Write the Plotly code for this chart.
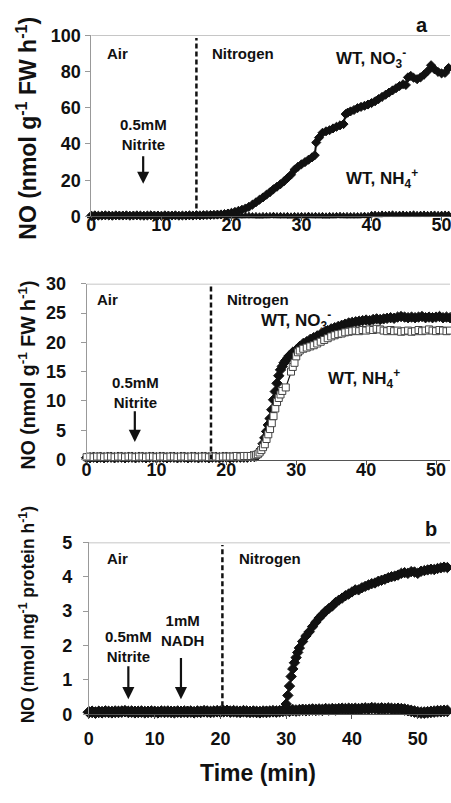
import plotly.graph_objects as go

FONT = "Liberation Sans, Arial, sans-serif"

# ---------------- Panel a (top): WT leaves ----------------
a_no3_t = [0, 0.5, 1, 1.5, 2, 2.5, 3, 3.5, 4, 4.5,
           5, 5.5, 6, 6.5, 7, 7.5, 8, 8.5, 9, 9.5,
           10, 10.5, 11, 11.5, 12, 12.5, 13, 13.5, 14, 14.5,
           15, 15.5, 16, 16.5, 17, 17.5, 18, 18.5, 19, 19.5,
           20, 20.5, 21, 21.5, 22, 22.5, 23, 23.5, 24, 24.5,
           25, 25.5, 26, 26.5, 27, 27.5, 28, 28.5, 29, 29.5,
           30, 30.5, 31, 31.5, 31.9, 32.1, 32.5, 33, 33.5, 34,
           34.5, 35, 35.5, 36, 36.3, 36.6, 37, 37.5, 38, 38.5,
           39, 39.5, 40, 40.5, 41, 41.5, 42, 42.5, 43, 43.5,
           44, 44.5, 44.9, 45.2, 45.6, 46, 46.5, 47, 47.5, 48,
           48.5, 49, 49.5, 50, 50.5, 51]
a_no3_v = [0.5, 0.6, 0.4, 0.5, 0.6, 0.5, 0.4, 0.6, 0.5, 0.5,
           0.6, 0.4, 0.5, 0.6, 0.5, 0.4, 0.5, 0.6, 0.5, 0.5,
           0.4, 0.6, 0.5, 0.5, 0.6, 0.4, 0.5, 0.5, 0.6, 0.5,
           0.7, 0.6, 0.7, 0.8, 0.8, 0.9, 1.0, 1.1, 1.3, 1.6,
           2.0, 2.5, 3.1, 3.7, 4.4, 5.3, 6.5, 7.8, 9.2, 10.5,
           12.0, 13.4, 15.0, 16.4, 17.8, 19.4, 21.2, 23.0, 25.8, 27.4,
           28.8, 30.0, 31.3, 32.6, 33.8, 40.8, 43.5, 46.2, 47.0, 47.6,
           48.6, 49.5, 50.3, 51.0, 56.5, 57.3, 58.0, 58.8, 59.8, 60.5,
           61.1, 61.8, 62.6, 63.6, 64.8, 66.0, 67.2, 68.4, 69.6, 70.8,
           72.0, 73.0, 72.6, 76.8, 77.6, 76.6, 75.8, 76.8, 78.3, 80.2,
           83.5, 81.2, 79.8, 79.0, 79.3, 82.0]
a_nh4_t = [0, 0.5, 1, 1.5, 2, 2.5, 3, 3.5, 4, 4.5,
           5, 5.5, 6, 6.5, 7, 7.5, 8, 8.5, 9, 9.5,
           10, 10.5, 11, 11.5, 12, 12.5, 13, 13.5, 14, 14.5,
           15, 15.5, 16, 16.5, 17, 17.5, 18, 18.5, 19, 19.5,
           20, 20.5, 21, 21.5, 22, 22.5, 23, 23.5, 24, 24.5,
           25, 25.5, 26, 26.5, 27, 27.5, 28, 28.5, 29, 29.5,
           30, 30.5, 31, 31.5, 32, 32.5, 33, 33.5, 34, 34.5,
           35, 35.5, 36, 36.5, 37, 37.5, 38, 38.5, 39, 39.5,
           40, 40.5, 41, 41.5, 42, 42.5, 43, 43.5, 44, 44.5,
           45, 45.5, 46, 46.5, 47, 47.5, 48, 48.5, 49, 49.5,
           50, 50.5, 51]
a_nh4_v = [0.2, 0.3, 0.1, 0.3, 0.2, 0.4, 0.2, 0.3, 0.1, 0.3,
           0.2, 0.3, 0.4, 0.2, 0.3, 0.1, 0.3, 0.2, 0.3, 0.2,
           0.4, 0.2, 0.3, 0.1, 0.3, 0.2, 0.3, 0.4, 0.2, 0.3,
           0.2, 0.3, 0.1, 0.3, 0.2, 0.3, 0.2, 0.4, 0.2, 0.3,
           0.1, 0.3, 0.2, 0.3, 0.2, 0.4, 0.2, 0.3, 0.1, 0.3,
           0.2, 0.3, 0.4, 0.2, 0.3, 0.2, 0.3, 0.1, 0.3, 0.2,
           0.3, 0.2, 0.4, 0.2, 0.3, 0.2, 0.3, 0.1, 0.3, 0.2,
           0.3, 0.4, 0.2, 0.3, 0.2, 0.3, 0.2, 0.3, 0.4, 0.3,
           0.9, 1.0, 0.8, 1.1, 0.9, 1.0, 1.2, 0.9, 1.0, 1.1,
           0.9, 1.0, 1.2, 0.9, 1.0, 1.1, 0.9, 1.0, 1.1, 0.9,
           1.0, 1.1, 1.0]

# ---------------- Panel (middle): second experiment ----------------
m_no3_t = [0, 0.5, 1, 1.5, 2, 2.5, 3, 3.5, 4, 4.5,
           5, 5.5, 6, 6.5, 7, 7.5, 8, 8.5, 9, 9.5,
           10, 10.5, 11, 11.5, 12, 12.5, 13, 13.5, 14, 14.5,
           15, 15.5, 16, 16.5, 17, 17.5, 18, 18.5, 19, 19.5,
           20, 20.5, 21, 21.5, 22, 22.5, 23, 23.5, 24, 24.25,
           24.5, 24.75, 25, 25.25, 25.5, 25.75, 26, 26.25, 26.5, 26.75,
           27, 27.25, 27.5, 27.75, 28, 28.25, 28.5, 28.75, 29, 29.5,
           30, 30.5, 31, 31.5, 32, 32.5, 33, 33.5, 34, 34.5,
           35, 35.5, 36, 36.5, 37, 37.5, 38, 38.5, 39, 39.5,
           40, 40.5, 41, 41.5, 42, 42.5, 43, 43.5, 44, 44.5,
           45, 45.5, 46, 46.5, 47, 47.5, 48, 48.5, 49, 49.5,
           50, 50.5, 51, 51.5, 52]
m_no3_v = [0.3, 0.3, 0.4, 0.3, 0.4, 0.3, 0.4, 0.4, 0.3, 0.4,
           0.4, 0.3, 0.4, 0.4, 0.3, 0.4, 0.4, 0.3, 0.4, 0.4,
           0.3, 0.4, 0.4, 0.3, 0.4, 0.4, 0.3, 0.4, 0.4, 0.3,
           0.4, 0.4, 0.3, 0.4, 0.4, 0.3, 0.4, 0.4, 0.3, 0.4,
           0.4, 0.3, 0.4, 0.4, 0.4, 0.4, 0.4, 0.5, 0.5, 0.6,
           0.8, 1.2, 1.8, 2.7, 3.7, 4.8, 5.9, 7.0, 8.5, 10.2,
           11.6, 13.0, 14.3, 15.3, 15.9, 16.5, 16.9, 17.3, 17.7, 18.3,
           18.7, 19.3, 19.8, 20.1, 20.5, 20.8, 21.1, 21.4, 21.7, 22.0,
           22.3, 22.5, 22.7, 22.9, 23.1, 23.3, 23.4, 23.5, 23.6, 23.7,
           23.8, 23.7, 23.9, 24.0, 23.9, 24.0, 24.1, 24.2, 24.1, 24.3,
           24.4, 24.3, 24.2, 24.3, 24.2, 24.3, 24.4, 24.2, 24.3, 24.2,
           24.3, 24.4, 24.2, 24.3, 24.2]
m_nh4_t = [0, 0.5, 1, 1.5, 2, 2.5, 3, 3.5, 4, 4.5,
           5, 5.5, 6, 6.5, 7, 7.5, 8, 8.5, 9, 9.5,
           10, 10.5, 11, 11.5, 12, 12.5, 13, 13.5, 14, 14.5,
           15, 15.5, 16, 16.5, 17, 17.5, 18, 18.5, 19, 19.5,
           20, 20.5, 21, 21.5, 22, 22.5, 23, 23.5, 24, 24.25,
           24.5, 24.75, 25, 25.25, 25.5, 25.75, 26, 26.25, 26.5, 26.75,
           27, 27.25, 27.5, 27.75, 28, 28.5, 29.25, 29.5, 29.75, 30,
           30.25, 30.5, 31, 31.5, 32, 32.5, 33, 33.5, 34, 34.5,
           35, 35.5, 36, 36.5, 37, 37.5, 38, 38.5, 39, 39.5,
           40, 40.5, 41, 41.5, 42, 42.5, 43, 43.5, 44, 44.5,
           45, 45.5, 46, 46.5, 47, 47.5, 48, 48.5, 49, 49.5,
           50, 50.5, 51, 51.5, 52]
m_nh4_v = [0.4, 0.5, 0.4, 0.5, 0.5, 0.4, 0.5, 0.5, 0.4, 0.5,
           0.5, 0.4, 0.5, 0.5, 0.4, 0.5, 0.5, 0.4, 0.5, 0.5,
           0.4, 0.5, 0.5, 0.4, 0.5, 0.5, 0.4, 0.5, 0.5, 0.4,
           0.5, 0.5, 0.4, 0.5, 0.5, 0.4, 0.5, 0.5, 0.4, 0.5,
           0.5, 0.5, 0.5, 0.6, 0.5, 0.6, 0.6, 0.6, 0.7, 0.8,
           0.9, 1.2, 1.6, 2.1, 2.6, 3.5, 4.3, 5.2, 6.2, 7.4,
           8.7, 9.8, 10.5, 11.1, 11.7, 12.3, 15.0, 15.8, 16.5, 17.6,
           18.3, 18.6, 18.9, 19.1, 19.3, 19.5, 19.8, 20.1, 20.4, 20.7,
           21.0, 21.2, 21.4, 21.5, 21.7, 21.8, 21.9, 22.0, 21.9, 22.1,
           22.0, 22.2, 22.1, 22.3, 22.2, 22.0, 21.9, 22.1, 21.9, 22.0,
           21.8, 21.9, 22.0, 21.8, 21.9, 22.1, 21.9, 22.0, 22.2, 22.0,
           21.9, 22.1, 22.0, 21.9, 22.0]

# ---------------- Panel b (bottom): protein extract ----------------
b_rise_t = [0, 0.5, 1, 1.5, 2, 2.5, 3, 3.5, 4, 4.5,
            5, 5.5, 6, 6.5, 7, 7.5, 8, 8.5, 9, 9.5,
            10, 10.5, 11, 11.5, 12, 12.5, 13, 13.5, 14, 14.5,
            15, 15.5, 16, 16.5, 17, 17.5, 18, 18.5, 19, 19.5,
            20, 20.5, 21, 21.5, 22, 22.5, 23, 23.5, 24, 24.5,
            25, 25.5, 26, 26.5, 27, 27.5, 28, 28.5, 29, 29.5,
            30, 30.25, 30.5, 30.75, 31, 31.25, 31.5, 31.75, 32, 32.5,
            33, 33.5, 34, 34.5, 35, 35.5, 36, 36.5, 37, 37.5,
            38, 38.5, 39, 39.5, 40, 40.5, 41, 41.5, 42, 42.5,
            43, 43.5, 44, 44.5, 45, 45.5, 46, 46.5, 47, 47.5,
            48, 48.5, 49, 49.5, 50, 50.5, 51, 51.5, 52, 52.5,
            53, 53.5, 54, 54.5, 55]
b_rise_v = [0.07, 0.08, 0.06, 0.08, 0.07, 0.09, 0.07, 0.08, 0.06, 0.08,
            0.07, 0.09, 0.08, 0.07, 0.09, 0.08, 0.07, 0.08, 0.09, 0.07,
            0.08, 0.07, 0.09, 0.08, 0.07, 0.08, 0.09, 0.07, 0.08, 0.07,
            0.09, 0.08, 0.07, 0.08, 0.09, 0.07, 0.08, 0.07, 0.09, 0.08,
            0.07, 0.08, 0.09, 0.07, 0.08, 0.07, 0.09, 0.08, 0.07, 0.08,
            0.09, 0.07, 0.08, 0.07, 0.09, 0.08, 0.07, 0.08, 0.09, 0.12,
            0.30, 0.55, 0.82, 1.10, 1.32, 1.50, 1.65, 1.80, 1.93, 2.12,
            2.28, 2.40, 2.55, 2.68, 2.80, 2.90, 3.00, 3.08, 3.15, 3.25,
            3.32, 3.38, 3.45, 3.50, 3.56, 3.62, 3.62, 3.68, 3.72, 3.76,
            3.80, 3.82, 3.87, 3.90, 3.93, 3.97, 4.00, 4.02, 4.05, 4.10,
            4.12, 4.10, 4.15, 4.14, 4.10, 4.16, 4.18, 4.20, 4.22, 4.21,
            4.24, 4.26, 4.28, 4.27, 4.30]
b_flat_t = [0, 0.5, 1, 1.5, 2, 2.5, 3, 3.5, 4, 4.5,
            5, 5.5, 6, 6.5, 7, 7.5, 8, 8.5, 9, 9.5,
            10, 10.5, 11, 11.5, 12, 12.5, 13, 13.5, 14, 14.5,
            15, 15.5, 16, 16.5, 17, 17.5, 18, 18.5, 19, 19.5,
            20, 20.5, 21, 21.5, 22, 22.5, 23, 23.5, 24, 24.5,
            25, 25.5, 26, 26.5, 27, 27.5, 28, 28.5, 29, 29.5,
            30, 30.5, 31, 31.5, 32, 32.5, 33, 33.5, 34, 34.5,
            35, 35.5, 36, 36.5, 37, 37.5, 38, 38.5, 39, 39.5,
            40, 40.5, 41, 41.5, 42, 42.5, 43, 43.5, 44, 44.5,
            45, 45.5, 46, 46.5, 47, 47.5, 48, 48.5, 49, 49.5,
            50, 50.5, 51, 51.5, 52, 52.5, 53, 53.5, 54, 54.5,
            55]
b_flat_v = [0.06, 0.07, 0.05, 0.07, 0.06, 0.08, 0.07, 0.06, 0.08, 0.07,
            0.08, 0.09, 0.07, 0.08, 0.06, 0.07, 0.08, 0.06, 0.07, 0.08,
            0.07, 0.06, 0.08, 0.07, 0.08, 0.07, 0.06, 0.08, 0.07, 0.08,
            0.07, 0.08, 0.06, 0.08, 0.07, 0.09, 0.08, 0.07, 0.08, 0.09,
            0.08, 0.09, 0.10, 0.08, 0.09, 0.08, 0.07, 0.09, 0.08, 0.07,
            0.08, 0.07, 0.06, 0.08, 0.07, 0.08, 0.09, 0.08, 0.09, 0.10,
            0.11, 0.10, 0.12, 0.11, 0.12, 0.13, 0.12, 0.13, 0.14, 0.13,
            0.14, 0.13, 0.15, 0.14, 0.15, 0.14, 0.15, 0.16, 0.15, 0.16,
            0.15, 0.16, 0.15, 0.16, 0.17, 0.16, 0.18, 0.17, 0.16, 0.17,
            0.16, 0.17, 0.16, 0.15, 0.16, 0.15, 0.14, 0.12, 0.10, 0.08,
            0.06, 0.05, 0.05, 0.06, 0.07, 0.08, 0.09, 0.09, 0.10, 0.10,
            0.11]

x_ticks = [0, 10, 20, 30, 40, 50]

fig = go.Figure()


def add(t, v, ax, symbol, size, fill, outline, lw=1.2):
    fig.add_trace(go.Scatter(
        x=t, y=v, xaxis="x" + ax, yaxis="y" + ax, mode="lines+markers",
        marker=dict(symbol=symbol, size=size, color=fill,
                    line=dict(color=outline, width=1)),
        line=dict(color="#111", width=lw), cliponaxis=False,
        showlegend=False, hoverinfo="skip"))


# top panel
add(a_nh4_t, a_nh4_v, "", "triangle-up", 7, "#111", "#111")
add(a_no3_t, a_no3_v, "", "diamond", 7, "#111", "#111", 2)
# middle panel
add(m_no3_t, m_no3_v, "2", "diamond", 8, "#111", "#111")
add(m_nh4_t, m_nh4_v, "2", "square", 7, "white", "#444")
# bottom panel
add(b_flat_t, b_flat_v, "3", "diamond", 9, "#111", "#111")
add(b_rise_t, b_rise_v, "3", "diamond", 8, "#111", "#111")

TICKF = dict(family=FONT, size=18, color="#111", weight="bold")


def xax(dom, rng, anchor, standoff):
    return dict(domain=dom, range=rng, anchor=anchor, tickvals=x_ticks,
                ticks="outside", ticklen=4, tickcolor="#555", showline=True,
                linecolor="#555", linewidth=1, showgrid=False, zeroline=False,
                tickfont=TICKF, fixedrange=True, ticklabeloverflow="allow",
                ticklabelstandoff=standoff)


def yax(dom, rng, dtick, anchor, standoff):
    return dict(domain=dom, range=rng, anchor=anchor, dtick=dtick,
                ticks="outside", ticklen=5, tickcolor="#999", showline=True,
                linecolor="#999", linewidth=1, showgrid=False, zeroline=False,
                tickfont=TICKF, fixedrange=True, ticklabelstandoff=standoff)


H = 803.0
W = 451.0
fig.update_layout(
    width=451, height=803, margin=dict(l=0, r=0, t=0, b=0),
    paper_bgcolor="white", plot_bgcolor="white",
    xaxis=xax([87.5 / W, 1], [0, 51.2], "y", -12),
    yaxis=yax([1 - 211.7 / H, 1 - 26 / H], [0, 100], 20, "x", 1),
    xaxis2=xax([82.7 / W, 1], [0, 52.0], "y2", -10),
    yaxis2=yax([1 - 461 / H, 1 - 280.7 / H], [0, 30], 5, "x2", 11),
    xaxis3=xax([85 / W, 1], [0, 54.9], "y3", 4),
    yaxis3=yax([1 - 722.3 / H, 1 - 546 / H], [0, 5], 1, "x3", 7),
)

shapes = []
for ax, ymax, xd in (("", 100, 15), ("2", 30, 17.8), ("3", 5, 20.3)):
    shapes.append(dict(type="line", xref="x" + ax + " domain", x0=0, x1=1,
                       yref="y" + ax, y0=ymax, y1=ymax,
                       line=dict(color="#b3b3b3", width=1.5)))
    shapes.append(dict(type="line", xref="x" + ax, x0=xd, x1=xd,
                       yref="y" + ax, y0=0, y1=ymax * 0.985,
                       line=dict(color="#111", width=2.5, dash="5px,3px")))
fig.update_layout(shapes=shapes)

ann = []


def txt(ax, x, y, s, size=15, xanchor="left"):
    ann.append(dict(xref="x" + ax, yref="y" + ax, x=x, y=y, text=s,
                    showarrow=False, xanchor=xanchor, yanchor="middle",
                    font=dict(family=FONT, size=size, color="#111",
                              weight="bold")))


def arrow(ax, x, y0, y1):
    ann.append(dict(xref="x" + ax, yref="y" + ax, axref="x" + ax,
                    ayref="y" + ax, x=x, y=y1, ax=x, ay=y0, text="",
                    showarrow=True, arrowhead=2, arrowsize=1.1,
                    arrowwidth=2.2, arrowcolor="#111"))


def ptxt(x, y, s, size, angle=0):
    ann.append(dict(xref="paper", yref="paper", x=x / W, y=1 - y / H,
                    text=s, showarrow=False, textangle=angle,
                    xanchor="center", yanchor="middle",
                    font=dict(family=FONT, size=size, color="#111",
                              weight="bold")))


# top
txt("", 2.0, 90, "Air")
txt("", 17.0, 90, "Nitrogen")
txt("", 34.6, 87, "WT, NO<sub>3</sub><sup>-</sup>", 17)
txt("", 36.0, 21, "WT, NH<sub>4</sub><sup>+</sup>", 17)
txt("", 7.4, 45, "0.5mM<br>Nitrite", 15, "center")
arrow("", 7.4, 34, 18)
# middle
txt("2", 1.2, 27.3, "Air")
txt("2", 19.8, 27.3, "Nitrogen")
txt("2", 24.6, 23.8, "WT, NO<sub>3</sub><sup>-</sup>", 17)
txt("2", 34.2, 13.8, "WT, NH<sub>4</sub><sup>+</sup>", 17)
txt("2", 7.0, 11.4, "0.5mM<br>Nitrite", 15, "center")
arrow("2", 6.9, 8.5, 3.0)
# bottom
txt("3", 2.5, 4.52, "Air")
txt("3", 22.5, 4.52, "Nitrogen")
txt("3", 6.0, 1.97, "0.5mM<br>Nitrite", 15, "center")
txt("3", 14.2, 2.45, "1mM<br>NADH", 15, "center")
arrow("3", 6.0, 1.44, 0.44)
arrow("3", 14.0, 1.68, 0.44)

ptxt(423, 15, "a", 20)
ptxt(432, 532, "b", 20)
ptxt(256, 783, "Time (min)", 23)
ptxt(22, 121, "NO (nmol g<sup>-1</sup> FW h<sup>-1</sup>)", 23, -90)
ptxt(22, 374, "NO (nmol g<sup>-1</sup> FW h<sup>-1</sup>)", 19.5, -90)
ptxt(22, 620, "NO (nmol mg<sup>-1</sup> protein h<sup>-1</sup>)", 17.5, -90)

fig.update_layout(annotations=ann)

for a, b in ((a_no3_t, a_no3_v), (a_nh4_t, a_nh4_v), (m_no3_t, m_no3_v),
             (m_nh4_t, m_nh4_v), (b_rise_t, b_rise_v), (b_flat_t, b_flat_v)):
    if len(a) != len(b):
        print("LEN MISMATCH", len(a), len(b))

fig.write_html("out.html")
